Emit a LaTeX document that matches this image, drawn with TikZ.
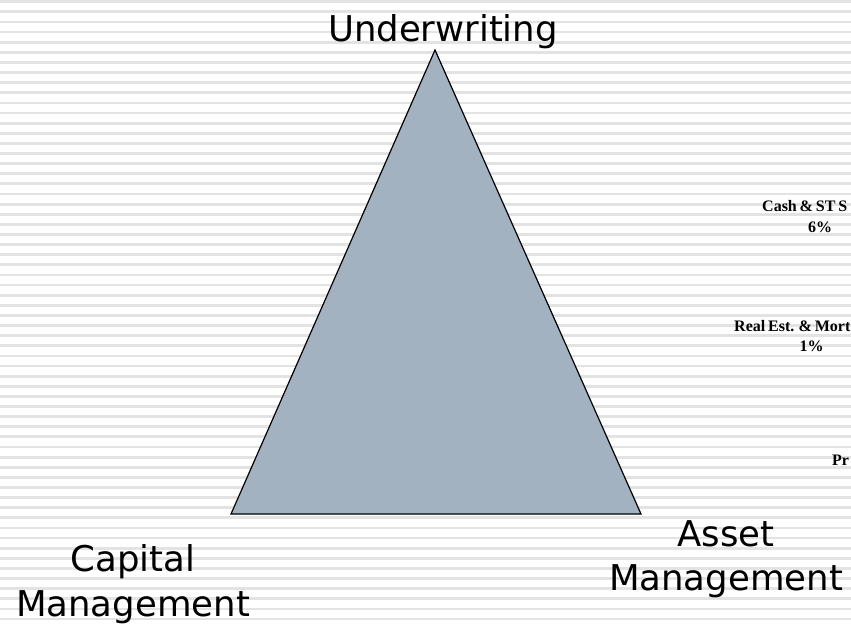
\documentclass[tikz,border=0pt]{standalone}
\usepackage{fontspec}
\newfontfamily\labelfont{DejaVu Sans}
\newfontfamily\piefont{Liberation Serif}
\newcommand\pietext{\piefont\bfseries\fontsize{16}{19}\selectfont\spaceskip 0.18em\relax}
\definecolor{slate}{HTML}{A3B2C1}
\definecolor{stripegray}{HTML}{E3E3E3}

\begin{document}
\begin{tikzpicture}[x=1pt, y=-1pt,
    corner/.style={font=\labelfont\fontsize{35.5}{45}\selectfont, anchor=base, inner sep=0pt},
    pielabel/.style={font=\pietext, inner sep=0pt}]

        % Page with the striped background
        \useasboundingbox (0,0) rectangle (851,626);
        \clip (0,0) rectangle (851,626);
        \fill[white] (0,0) rectangle (851,626);
        \foreach \k in {0,...,61}
            \fill[stripegray] (0,{0.3+\k*10.12}) rectangle (851,{3.1+\k*10.12});

        % Triangle corners
        \coordinate (top) at (435,50);
        \coordinate (capital) at (231,514);
        \coordinate (asset) at (641,514);
        \draw[fill=slate, line width=1.2pt] (top) -- (capital) -- (asset) -- cycle;

        % Corner labels
        \node[corner] (underwriting) at (443,41.7) {Underwriting};
        \node[corner] (capitalA) at (133,571.7) {Capital};
        \node[corner] (capitalB) at (133,616.7) {Management};
        \node[corner] (assetA) at (726,546) {Asset};
        \node[corner] (assetB) at (726,590) {Management};

        % Pie chart labels, cut off at the right edge
        \node[pielabel, anchor=base west] (cash) at (762,211.5) {Cash \& ST S};
        \node[pielabel, anchor=base] (cashpct) at (820,232.5) {6\%};
        \node[pielabel, anchor=base west] (realest) at (734,331.5) {Real Est. \& Mort};
        \node[pielabel, anchor=base] (realestpct) at (811.5,351.5) {1\%};
        \node[pielabel, anchor=base west] (pr) at (832,465) {Pr};

    \end{tikzpicture}
\end{document}
